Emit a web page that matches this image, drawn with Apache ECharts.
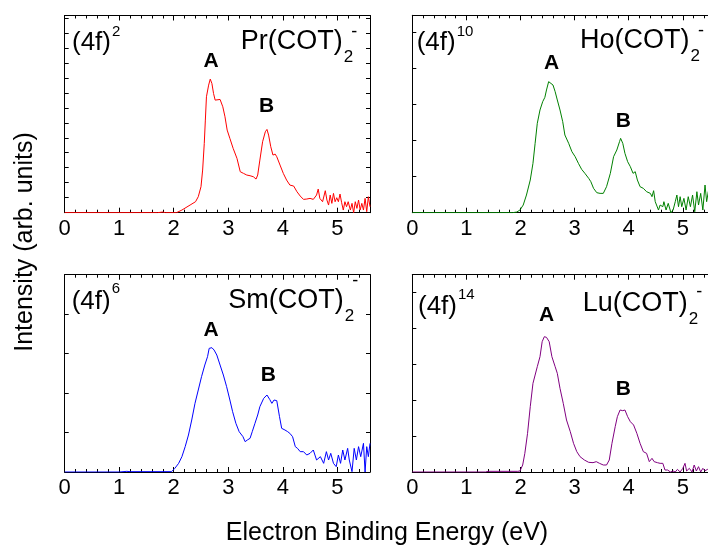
<!DOCTYPE html>
<html><head><meta charset="utf-8">
<script src="https://cdn.jsdelivr.net/npm/echarts@6/dist/echarts.min.js"></script>
<style>html,body{margin:0;padding:0;background:#fff}#c{width:708px;height:548px}</style>
</head><body><div id="c"></div>
<script>
// Energy (eV), intensity (arb. units)
const prData = [[0,0],[1.7,0],[1.8,2],[1.85,0],[2.05,0],[2.15,8],[2.3,23],[2.4,33],[2.45,48],[2.5,78],[2.53,128],[2.56,208],[2.58,278],[2.6,348],[2.64,383],[2.67,401],[2.7,388],[2.73,358],[2.76,338],[2.79,343],[2.85,340],[2.9,318],[2.94,288],[2.98,248],[3.03,223],[3.09,193],[3.16,163],[3.22,123],[3.28,118],[3.34,113],[3.4,111],[3.46,108],[3.51,101],[3.54,113],[3.58,158],[3.63,213],[3.68,243],[3.71,250],[3.74,233],[3.78,198],[3.82,173],[3.86,176],[3.89,168],[3.95,143],[4.01,118],[4.07,98],[4.13,83],[4.2,80],[4.26,63],[4.32,50],[4.38,40],[4.44,41],[4.5,43],[4.56,40],[4.62,53],[4.65,71],[4.68,43],[4.73,33],[4.78,66],[4.81,38],[4.84,23],[4.87,53],[4.9,28],[4.93,58],[4.96,33],[4.99,45],[5.02,33],[5.05,56],[5.08,30],[5.11,8],[5.14,33],[5.17,18],[5.2,33],[5.24,8],[5.27,28],[5.3,0],[5.33,33],[5.36,13],[5.39,38],[5.42,8],[5.45,28],[5.48,8],[5.51,43],[5.54,3],[5.57,48],[5.6,18]];
const hoData = [[0,0],[1.85,0],[1.93,2],[1.99,8],[2.05,23],[2.11,53],[2.18,98],[2.23,148],[2.27,208],[2.31,268],[2.36,308],[2.41,333],[2.45,346],[2.48,368],[2.52,393],[2.55,390],[2.6,383],[2.64,363],[2.68,338],[2.73,308],[2.78,273],[2.82,233],[2.89,208],[2.95,183],[3.01,168],[3.07,148],[3.13,130],[3.19,118],[3.26,103],[3.3,93],[3.35,73],[3.41,60],[3.47,58],[3.53,58],[3.59,78],[3.66,118],[3.72,168],[3.78,188],[3.83,213],[3.85,223],[3.89,208],[3.93,178],[3.98,153],[4.03,138],[4.08,118],[4.12,123],[4.16,98],[4.21,78],[4.27,73],[4.33,63],[4.4,58],[4.43,48],[4.46,66],[4.49,33],[4.52,28],[4.55,8],[4.58,23],[4.63,18],[4.65,33],[4.69,8],[4.73,28],[4.78,0],[4.82,8],[4.86,33],[4.89,53],[4.92,18],[4.95,48],[4.98,18],[5.02,43],[5.06,8],[5.1,48],[5.14,18],[5.18,53],[5.22,3],[5.26,63],[5.29,23],[5.33,58],[5.37,8],[5.41,83],[5.44,33],[5.47,63],[5.52,30],[5.58,50]];
const smData = [[0,0],[1.0,0],[1.14,2],[1.2,1],[1.96,1],[2.02,11],[2.09,26],[2.15,46],[2.21,76],[2.27,111],[2.33,156],[2.39,206],[2.45,246],[2.51,286],[2.57,321],[2.62,346],[2.65,371],[2.7,373],[2.74,366],[2.79,351],[2.85,321],[2.91,291],[2.97,256],[3.03,216],[3.08,181],[3.14,146],[3.2,121],[3.27,106],[3.31,91],[3.35,96],[3.4,101],[3.44,121],[3.49,146],[3.54,171],[3.58,196],[3.65,221],[3.71,231],[3.76,218],[3.8,206],[3.84,216],[3.89,214],[3.94,166],[3.98,131],[4.04,126],[4.09,121],[4.13,116],[4.18,106],[4.23,76],[4.27,71],[4.32,61],[4.38,61],[4.44,51],[4.5,56],[4.56,66],[4.62,36],[4.69,46],[4.75,26],[4.8,61],[4.84,36],[4.88,56],[4.93,26],[4.98,16],[5.02,51],[5.06,26],[5.1,66],[5.14,36],[5.19,71],[5.22,36],[5.27,1],[5.31,71],[5.35,36],[5.39,76],[5.43,46],[5.48,86],[5.51,0],[5.54,76],[5.57,46],[5.6,86]];
const luData = [[0,0],[1.35,0],[1.4,2],[1.95,2],[1.99,3],[2.04,21],[2.08,56],[2.13,116],[2.18,196],[2.23,266],[2.27,291],[2.31,316],[2.36,346],[2.4,391],[2.44,406],[2.48,404],[2.53,391],[2.58,346],[2.64,316],[2.68,296],[2.73,251],[2.79,206],[2.85,156],[2.92,121],[2.98,86],[3.04,61],[3.1,46],[3.18,36],[3.26,29],[3.34,28],[3.4,31],[3.46,26],[3.53,21],[3.59,21],[3.64,36],[3.69,86],[3.75,136],[3.79,166],[3.84,186],[3.89,184],[3.93,186],[3.98,166],[4.03,151],[4.09,141],[4.15,116],[4.21,86],[4.27,61],[4.33,56],[4.38,31],[4.43,41],[4.47,31],[4.53,28],[4.58,26],[4.63,26],[4.67,6],[4.72,6],[4.77,0],[4.82,3],[4.86,0],[4.9,8],[4.95,0],[5.0,11],[5.04,26],[5.07,3],[5.12,11],[5.17,0],[5.21,21],[5.25,3],[5.29,16],[5.33,0],[5.37,11],[5.41,4],[5.46,8],[5.52,5],[5.6,10]];

const seriesData = [prData, hoData, smData, luData];
const configExponents = ['2', '10', '6', '14'];
const moleculeNames = ['Pr(COT)', 'Ho(COT)', 'Sm(COT)', 'Lu(COT)'];
const moleculeSub = '2';
const moleculeCharge = '-';
const peakNames = ['A', 'B'];
const xMin = 0, xMax = 5.6, xStep = 1;
const yMax = 592;
const yTickSteps = [45, 108, 118.4, 108];
const xTitle = 'Electron Binding Energy (eV)';
const yTitle = 'Intensity (arb. units)';

// ---- layout & style ----
const colors = ['#ff0000', '#008000', '#0000ff', '#800080'];
const FF = "'Liberation Sans', Arial, Helvetica, sans-serif";
const grids = [
  {left: 64.7, top: 15.5, width: 305.3, height: 197.2},
  {left: 412.3, top: 15.3, width: 303, height: 197.4},
  {left: 64.7, top: 274.7, width: 305.3, height: 197.3},
  {left: 412.3, top: 274.7, width: 303, height: 197.3}
];
// label anchor positions (pixels)
const labelPos = [
  {cfgX: 72, cfgBase: 51.7, supY: 31.5, molX: 240.7, molBase: 51, subY: 57.5, minusY: 32.5, A: [211, 61.7], B: [266.7, 106.7]},
  {cfgX: 416.7, cfgBase: 51.7, supY: 31.5, molX: 580, molBase: 50.5, subY: 56.5, minusY: 31, A: [551.7, 63.3], B: [623.3, 121]},
  {cfgX: 71.7, cfgBase: 311, supY: 289, molX: 228.3, molBase: 310, subY: 316, minusY: 281.5, A: [211, 330], B: [268.3, 375]},
  {cfgX: 418, cfgBase: 316, supY: 295, molX: 582.7, molBase: 313.5, subY: 319, minusY: 291.7, A: [546.7, 315], B: [623.3, 389.3]}
];
const CFG = 26, MOL = 27, SUP = 15, SUB = 17, PEAK = 21, TITLE = 25, TICK = 22;

const mctx = document.createElement('canvas').getContext('2d');
function tw(t, font) { mctx.font = font; return mctx.measureText(t).width; }
function fontOf(size, weight) { return (weight || 'normal') + ' ' + size + 'px ' + FF; }

function txt(x, y, text, size, align, weight, rot) {
  return {
    type: 'text', x: x, y: y, silent: true, rotation: rot || 0, z: 100,
    style: {text: text, font: fontOf(size, weight), fill: '#000',
      textAlign: align, textVerticalAlign: 'middle', align: align, verticalAlign: 'middle'}
  };
}

const axisCommon = {
  axisLine: {show: true, onZero: false, lineStyle: {color: '#000', width: 1}},
  splitLine: {show: false},
};

const xAxes = [], yAxes = [], series = [], graphic = [];
grids.forEach((g, i) => {
  xAxes.push(Object.assign({}, axisCommon, {
    type: 'value', gridIndex: i, min: xMin, max: xMax, interval: xStep, position: 'bottom',
    axisTick: {show: true, inside: true, length: 5, lineStyle: {color: '#000'}},
    minorTick: {show: true, splitNumber: 5, length: 3, lineStyle: {color: '#000'}},
    axisLabel: {show: true, color: '#000', fontSize: TICK, fontFamily: FF, margin: 5, showMaxLabel: false}
  }));
  xAxes.push(Object.assign({}, axisCommon, {
    type: 'value', gridIndex: i, min: xMin, max: xMax, interval: xStep, position: 'top',
    axisTick: {show: true, inside: true, length: 5, lineStyle: {color: '#000'}},
    minorTick: {show: true, splitNumber: 5, length: 3, lineStyle: {color: '#000'}},
    axisLabel: {show: false}
  }));
  ['left', 'right'].forEach(pos => {
    yAxes.push(Object.assign({}, axisCommon, {
      type: 'value', gridIndex: i, min: 0, max: yMax, interval: yTickSteps[i], position: pos,
      axisTick: {show: true, inside: true, length: 4, lineStyle: {color: '#000'}},
      axisLabel: {show: false}
    }));
  });
  series.push({
    type: 'line', xAxisIndex: 2 * i, yAxisIndex: 2 * i, data: seriesData[i],
    showSymbol: false, symbol: 'none', smooth: false, clip: true,
    lineStyle: {color: colors[i], width: 1}, itemStyle: {color: colors[i]}
  });

  const p = labelPos[i];
  // (4f)^n
  graphic.push(txt(p.cfgX, p.cfgBase - 0.36 * CFG, '(4f)', CFG, 'left'));
  graphic.push(txt(p.cfgX + tw('(4f)', fontOf(CFG)) + 1, p.supY, configExponents[i], SUP, 'left'));
  // molecule with subscript and charge
  graphic.push(txt(p.molX, p.molBase - 0.36 * MOL, moleculeNames[i], MOL, 'left'));
  const subX = p.molX + tw(moleculeNames[i], fontOf(MOL)) + 1;
  graphic.push(txt(subX, p.subY, moleculeSub, SUB, 'left'));
  graphic.push(txt(subX + tw(moleculeSub, fontOf(SUB)) - 2, p.minusY, moleculeCharge, 18, 'left'));
  // peaks
  graphic.push(txt(p.A[0], p.A[1], peakNames[0], PEAK, 'center', 'bold'));
  graphic.push(txt(p.B[0], p.B[1], peakNames[1], PEAK, 'center', 'bold'));
});
graphic.push(txt(25, 242, yTitle, TITLE, 'center', 'normal', Math.PI / 2));
graphic.push(txt(387, 533, xTitle, TITLE, 'center'));

const chart = echarts.init(document.getElementById('c'), null, {renderer: 'canvas'});
chart.setOption({
  animation: false,
  backgroundColor: '#fff',
  grid: grids.map(g => Object.assign({containLabel: false, outerBoundsMode: 'none', show: false}, g)),
  xAxis: xAxes,
  yAxis: yAxes,
  series: series,
  graphic: {elements: graphic}
});
</script></body></html>
